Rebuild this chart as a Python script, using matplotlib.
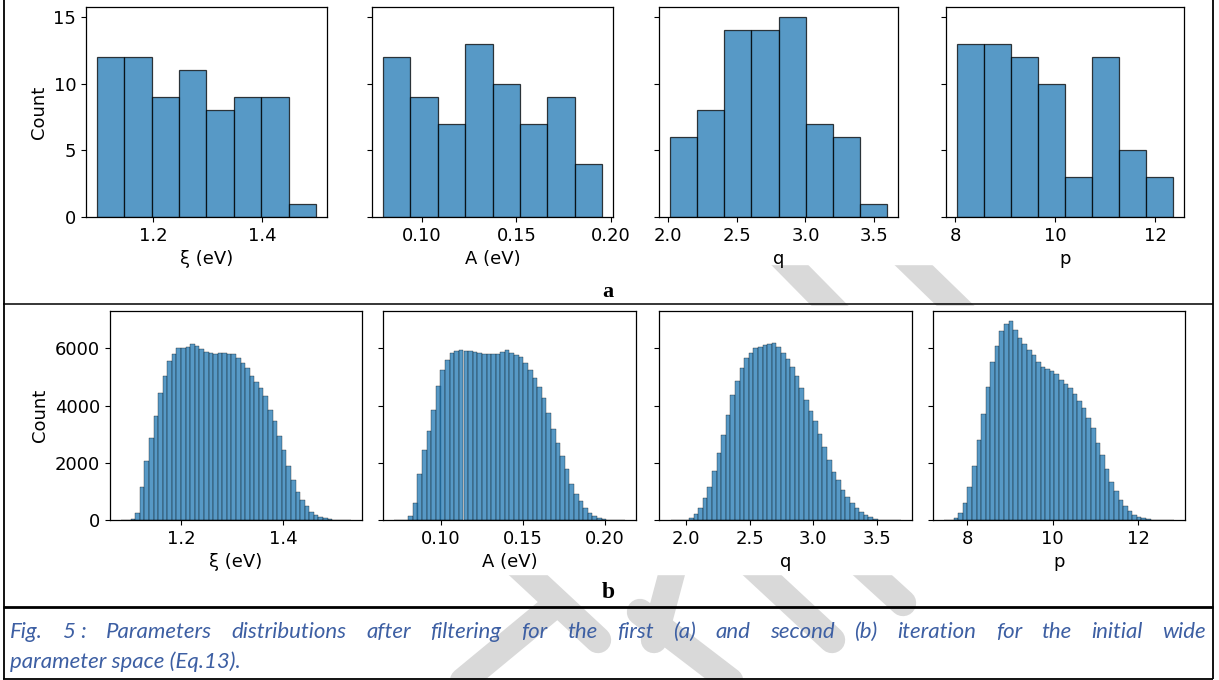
import numpy as np
import matplotlib.pyplot as plt
from matplotlib.patches import Rectangle

W, H = 1219, 680

# ---- first iteration (a): 8 bins per parameter
xi_a_range = (1.097, 1.499)
xi_a_counts = [12, 12, 9, 11, 8, 9, 9, 1]
A_a_range = (0.0793, 0.1953)
A_a_counts = [12, 9, 7, 13, 10, 7, 9, 4]
q_a_range = (2.014, 3.594)
q_a_counts = [6, 8, 14, 14, 15, 7, 6, 1]
p_a_range = (8.036, 12.36)
p_a_counts = [13, 13, 12, 10, 3, 12, 5, 3]

# ---- second iteration (b): counts
xi_b_range = (1.083, 1.533)
xi_b_counts = [0, 0, 40, 240, 1150, 2050, 2850, 3620, 4450, 5050,
               5550, 5800, 6020, 6030, 6060, 6140, 6080, 5970, 5890, 5850,
               5810, 5830, 5840, 5820, 5790, 5650, 5500, 5300, 5050, 4820,
               4600, 4350, 3850, 3450, 2950, 2450, 1900, 1400, 980, 700,
               480, 290, 170, 100, 55, 25, 10, 4, 1, 0]
A_b_range = (0.0716, 0.2119)
A_b_counts = [0, 0, 5, 150, 600, 1600, 2450, 3100, 3850, 4700,
              5250, 5600, 5830, 5900, 5930, 5920, 5900, 5870, 5830, 5790,
              5810, 5790, 5820, 5870, 5930, 5850, 5780, 5700, 5480, 5250,
              4950, 4650, 4280, 3750, 3180, 2700, 2230, 1780, 1270, 900,
              650, 420, 250, 140, 70, 30, 10, 3, 0, 0]
q_b_range = (1.878, 3.685)
q_b_counts = [0, 0, 0, 15, 70, 200, 430, 780, 1150, 1730,
              2330, 2980, 3680, 4380, 4850, 5300, 5650, 5850, 6000, 6050,
              6110, 6160, 6180, 6060, 5850, 5620, 5360, 5050, 4600, 4200,
              3820, 3460, 3000, 2560, 2090, 1680, 1400, 1050, 800, 590,
              420, 290, 180, 100, 40, 15, 5, 2, 0, 0]
p_b_range = (7.473, 12.83)
p_b_counts = [0, 0, 60, 250, 580, 1150, 1900, 2800, 3700, 4650,
              5520, 6100, 6600, 6850, 6960, 6650, 6350, 6150, 5950, 5760,
              5510, 5360, 5290, 5220, 5120, 4910, 4770, 4620, 4420, 4170,
              3900, 3560, 3200, 2700, 2270, 1780, 1340, 1000, 700, 480,
              300, 190, 120, 70, 30, 10, 3, 0, 0, 0]

xlabels = ['ξ (eV)', 'A (eV)', 'q', 'p']
xticks = [[1.2, 1.4], [0.10, 0.15, 0.20], [2.0, 2.5, 3.0, 3.5], [8, 10, 12]]
xticklabels = [['1.2', '1.4'], ['0.10', '0.15', '0.20'],
               ['2.0', '2.5', '3.0', '3.5'], ['8', '10', '12']]
yticks_a = [0, 5, 10, 15]
yticks_b = [0, 2000, 4000, 6000]

caption_1 = ("Fig. 5\u00a0: Parameters distributions after filtering for the first (a) "
             "and second (b) iteration for the initial wide")
caption_2 = "parameter space (Eq.13)."

plt.rcParams['font.size'] = 13
plt.rcParams['axes.linewidth'] = 0.9

fig = plt.figure(figsize=(W / 100, H / 100), dpi=100)


def box(x0, y0, x1, y1):
    return [x0 / W, 1 - y1 / H, (x1 - x0) / W, (y1 - y0) / H]


# background layer: watermark, white chart areas, frame, caption
bg = fig.add_axes([0, 0, 1, 1], zorder=-1)
bg.set_xlim(0, W)
bg.set_ylim(H, 0)
bg.axis('off')

wm = '#d9d9d9'
strokes = [((775, 250), (842, 318)), ((898, 250), (966, 316)),
           ((512, 560), (598, 640)), ((748, 562), (832, 640)),
           ((858, 562), (903, 603)), ((674, 565), (654, 640)),
           ((555, 605), (440, 700)), ((640, 612), (755, 700))]
for (x0, y0), (x1, y1) in strokes:
    bg.plot([x0, x1], [y0, y1], color=wm, lw=19, solid_capstyle='round', zorder=1)

bg.add_patch(Rectangle((10, 0), 1195, 264, color='white', zorder=2))
bg.add_patch(Rectangle((10, 306), 1195, 268, color='white', zorder=2))

for xs, ys, lw in [([3.5, 3.5], [0, 679], 1.3), ([1213, 1213], [0, 679], 1.3),
                   ([3, 1213], [304, 304], 1.1), ([3, 1213], [607, 607], 2.0),
                   ([3, 1213], [678.5, 678.5], 1.3)]:
    bg.plot(xs, ys, color='black', lw=lw, zorder=3, solid_capstyle='butt')

bg.text(608, 292, 'a', fontsize=16, fontweight='bold', family='Liberation Serif',
        ha='center', va='center', zorder=4)
bg.text(608, 592, 'b', fontsize=17, fontweight='bold', family='Liberation Serif',
        ha='center', va='center', zorder=4)

# caption, first line justified between the frame lines
cap_kw = dict(fontsize=16, style='italic', family='Lato', color='#3d5fa3',
              va='center', ha='left', zorder=4)
renderer = fig.canvas.get_renderer()
words = caption_1.split(' ')
arts = [bg.text(0, 632, w, **cap_kw) for w in words]
widths = [a.get_window_extent(renderer).width for a in arts]
gap = (1206 - 10 - sum(widths)) / (len(words) - 1)
x = 10
for a, w in zip(arts, widths):
    a.set_x(x)
    x += w + gap
bg.text(10, 662, caption_2, **cap_kw)

# histograms
face = '#1f77b4'
rows = [
    dict(ranges=[xi_a_range, A_a_range, q_a_range, p_a_range],
         counts=[xi_a_counts, A_a_counts, q_a_counts, p_a_counts],
         xs=[(86, 327), (372, 613), (659, 898), (946, 1184)], ys=(7, 217),
         yticks=yticks_a, lw=0.9),
    dict(ranges=[xi_b_range, A_b_range, q_b_range, p_b_range],
         counts=[xi_b_counts, A_b_counts, q_b_counts, p_b_counts],
         xs=[(110, 362), (383, 636), (659, 912), (933, 1185)], ys=(311, 520),
         yticks=yticks_b, lw=0.3),
]

for row in rows:
    first = None
    for i in range(4):
        x0, x1 = row['xs'][i]
        ax = fig.add_axes(box(x0, row['ys'][0], x1, row['ys'][1]), sharey=first)
        if first is None:
            first = ax
        counts = row['counts'][i]
        lo, hi = row['ranges'][i]
        edges = np.linspace(lo, hi, len(counts) + 1)
        ax.bar(edges[:-1], counts, width=np.diff(edges), align='edge',
               color=face, alpha=0.75, edgecolor='black', linewidth=row['lw'])
        ax.set_xticks(xticks[i])
        ax.set_xticklabels(xticklabels[i])
        ax.set_xlabel(xlabels[i])
        ax.set_yticks(row['yticks'])
        if i == 0:
            ax.set_ylabel('Count')
        else:
            ax.tick_params(labelleft=False)

fig.savefig('out.png', dpi=100)
